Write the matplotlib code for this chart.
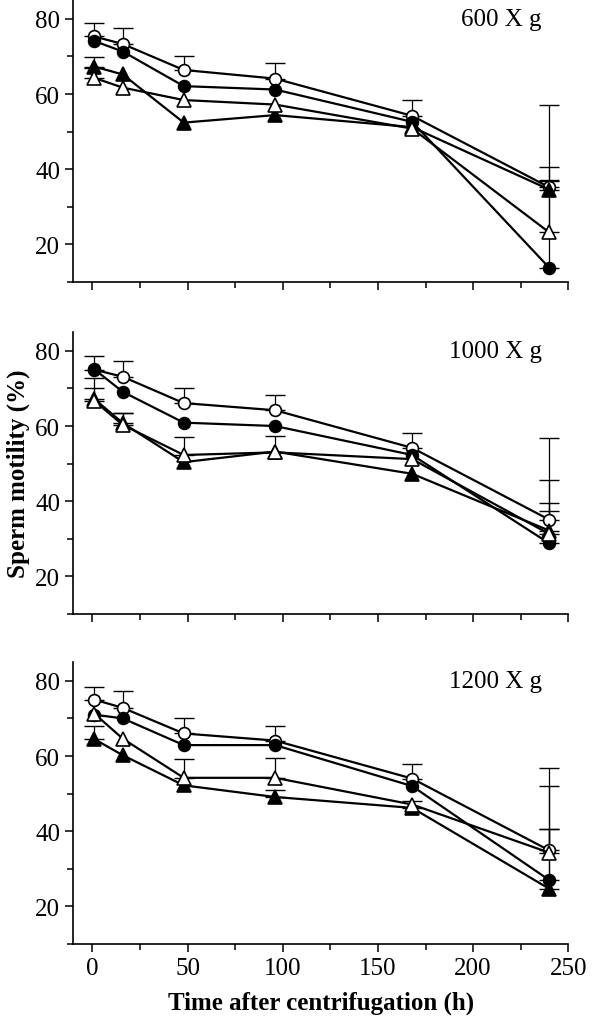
import matplotlib
matplotlib.use("Agg")
import matplotlib.pyplot as plt
from matplotlib.ticker import MultipleLocator

plt.rcParams['font.family'] = ['Liberation Serif', 'DejaVu Serif']

times = [1, 16, 48, 96, 168, 240]
panel_labels = ["600 X g", "1000 X g", "1200 X g"]

# series per panel: open circle, filled circle, filled triangle, open triangle
open_circle = [
    [75.3, 73.3, 66.4, 64.1, 54.2, 35.2],
    [75.0, 73.1, 66.1, 64.2, 54.2, 35.1],
    [75.0, 72.8, 66.0, 64.1, 54.0, 34.9],
]
open_circle_err = [
    [3.5, 4.2, 3.8, 4.2, 4.2, 21.8],
    [3.5, 4.2, 4.0, 4.0, 4.0, 21.7],
    [3.4, 4.4, 4.0, 3.8, 4.0, 21.9],
]
filled_circle = [
    [74.1, 71.3, 62.1, 61.2, 52.6, 13.8],
    [75.1, 69.1, 60.9, 60.0, 52.3, 28.8],
    [71.0, 70.0, 62.9, 62.9, 52.0, 27.0],
]
filled_circle_err = [
    [0.0, 0.0, 0.0, 0.0, 0.0, 23.0],
    [0.0, 0.0, 0.0, 0.0, 0.0, 8.7],
    [0.0, 0.0, 0.0, 0.0, 0.0, 13.7],
]
filled_triangle = [
    [67.3, 65.2, 52.4, 54.4, 51.2, 34.6],
    [67.2, 60.8, 50.4, 53.2, 47.3, 32.2],
    [64.5, 60.2, 52.2, 49.1, 46.2, 24.7],
]
filled_triangle_err = [
    [2.5, 0.0, 0.0, 0.0, 0.0, 2.5],
    [5.5, 2.7, 0.0, 4.2, 0.0, 7.4],
    [3.5, 0.0, 0.0, 1.8, 1.8, 16.0],
]
open_triangle = [
    [64.3, 61.7, 58.4, 57.2, 50.8, 23.2],
    [66.7, 60.3, 52.3, 53.0, 51.2, 31.3],
    [71.3, 64.6, 54.2, 54.2, 47.1, 34.3],
]
open_triangle_err = [
    [2.6, 0.0, 0.0, 0.0, 0.0, 17.5],
    [3.3, 3.2, 4.7, 0.0, 0.0, 14.4],
    [0.0, 0.0, 5.1, 5.3, 0.0, 17.6],
]

fig = plt.figure(figsize=(5.98, 10.20), dpi=100)
left, width = 0.1226, 0.8277
bottoms = [0.7225, 0.397, 0.0735]
height = 0.2765

styles = [
    (open_circle, open_circle_err, 'o', 'white', 8.5),
    (filled_circle, filled_circle_err, 'o', 'black', 8.5),
    (filled_triangle, filled_triangle_err, '^', 'black', 10.5),
    (open_triangle, open_triangle_err, '^', 'white', 10.5),
]

FS = 18

for p in range(3):
    ax = fig.add_axes([left, bottoms[p], width, height])
    for data, err, mk, fc, ms in styles:
        y = data[p]
        e = err[p]
        idx = [i for i in range(len(e)) if e[i] > 0]
        if idx:
            ax.errorbar([times[i] for i in idx], [y[i] for i in idx],
                        yerr=[[0] * len(idx), [e[i] for i in idx]],
                        fmt='none', ecolor='black', elinewidth=0.9,
                        capsize=7, capthick=1.0, zorder=2)
        ax.plot(times, y, color='black', lw=1.6, marker=mk, markersize=ms,
                markerfacecolor=fc, markeredgecolor='black',
                markeredgewidth=1.2, zorder=3)
    ax.set_xlim(-10, 250)
    ax.set_ylim(10, 85)
    ax.spines['top'].set_visible(False)
    ax.spines['right'].set_visible(False)
    for s in ['left', 'bottom']:
        ax.spines[s].set_linewidth(1.2)
    ax.xaxis.set_major_locator(MultipleLocator(50))
    ax.xaxis.set_minor_locator(MultipleLocator(25))
    ax.set_yticks([20, 40, 60, 80])
    ax.yaxis.set_minor_locator(MultipleLocator(10))
    ax.tick_params(which='major', direction='out', length=6, width=1.1,
                   labelsize=FS)
    ax.tick_params(which='minor', direction='out', length=4, width=1.1)
    if p < 2:
        ax.tick_params(axis='x', labelbottom=False)
    ax.text(236, 80, panel_labels[p], ha='right', va='center', fontsize=FS)
    if p == 1:
        ax.set_ylabel('Sperm motility (%)', fontsize=FS, fontweight='bold',
                      labelpad=4)
    if p == 2:
        ax.set_xlabel('Time after centrifugation (h)', fontsize=FS,
                      fontweight='bold', labelpad=8)

fig.savefig('out.png', dpi=100)
